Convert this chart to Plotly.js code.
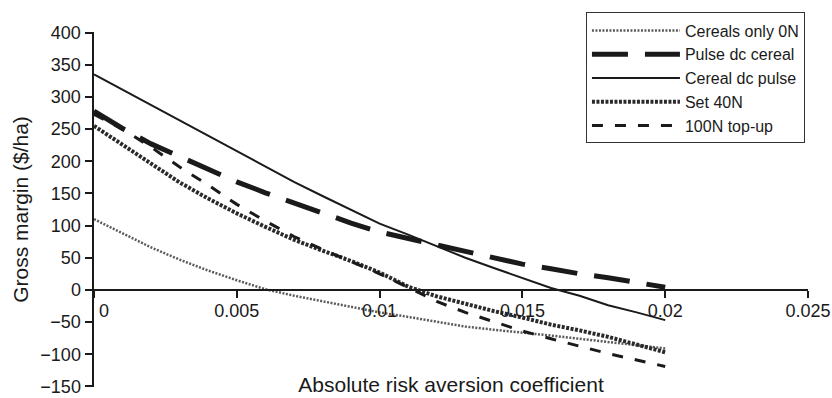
<!DOCTYPE html>
<html><head><meta charset="utf-8">
<script src="https://cdn.plot.ly/plotly-3.0.1.min.js"></script>
<style>html,body{margin:0;padding:0;background:#fff;} #chart{width:832px;height:398px;}</style>
</head><body><div id="chart"></div>
<script>
// Absolute risk aversion coefficient (x values)
const coef = [0, 0.001, 0.002, 0.003, 0.004, 0.005, 0.006, 0.007, 0.008, 0.009, 0.010,
              0.011, 0.012, 0.013, 0.014, 0.015, 0.016, 0.017, 0.018, 0.019, 0.020];
// Gross margin ($/ha) per strategy
const cerealsOnly0N = [110, 88, 66, 47, 30, 15, 1, -9, -18, -27, -35, -42, -50, -57, -62, -66, -71, -76, -81, -86, -91];
const pulseDcCereal = [278, 251, 227, 207, 186, 168, 151, 135, 120, 104, 90, 80, 70, 60, 50, 40, 33, 25, 19, 12, 4];
const cerealDcPulse = [335, 311, 287, 263, 239, 215, 192, 168, 146, 124, 103, 86, 68, 50, 34, 18, 3, -9, -24, -35, -47];
const set40N        = [255, 226, 197, 167, 142, 119, 98, 78, 61, 45, 27, 5, -10, -22, -33, -43, -54, -63, -73, -85, -97];
const topUp100N     = [273, 250, 222, 191, 163, 133, 107, 83, 63, 44, 25, 4, -18, -35, -50, -64, -76, -88, -99, -109, -119];

const seriesNames = ['Cereals only 0N', 'Pulse dc cereal', 'Cereal dc pulse', 'Set 40N', '100N top-up'];

const xTickVals = [0, 0.005, 0.01, 0.015, 0.02, 0.025];
const xTickText = ['\u00a0\u00a0\u00a0\u00a00', '0.005', '0.01', '0.015', '0.02', '0.025'];
const yTickVals = [-150, -100, -50, 0, 50, 100, 150, 200, 250, 300, 350, 400];

const FONT = '"Liberation Sans", Arial, Helvetica, sans-serif';
const INK = '#1a1a1a';

const traces = [
  {x: coef, y: cerealsOnly0N, name: seriesNames[0], mode: 'lines',
   line: {color: '#5a5a5a', width: 2.5, dash: '2px,1.5px'}},
  {x: coef, y: pulseDcCereal, name: seriesNames[1], mode: 'lines',
   line: {color: INK, width: 5, dash: '36px,17px'}},
  {x: coef, y: cerealDcPulse, name: seriesNames[2], mode: 'lines',
   line: {color: INK, width: 2}},
  {x: coef, y: set40N, name: seriesNames[3], mode: 'lines',
   line: {color: '#2a2a2a', width: 4, dash: '3px,1.5px'}},
  {x: coef, y: topUp100N, name: seriesNames[4], mode: 'lines',
   line: {color: INK, width: 3, dash: '11px,12px'}}
];

const yMin = -151, yMax = 401;

const layout = {
  width: 832, height: 398,
  margin: {l: 94, r: 24, t: 32, b: 11},
  paper_bgcolor: '#fff', plot_bgcolor: '#fff',
  font: {family: FONT, color: INK, size: 18},
  showlegend: true,
  legend: {x: 0.689, y: 1.055, xanchor: 'left', yanchor: 'top',
           bordercolor: '#333', borderwidth: 1, bgcolor: '#fff',
           font: {size: 16, family: FONT, color: INK}, itemwidth: 88},
  xaxis: {range: [0, 0.025], anchor: 'free', position: (0 - yMin) / (yMax - yMin),
          tickmode: 'array', tickvals: xTickVals, ticktext: xTickText,
          ticks: 'outside', ticklen: 7, tickwidth: 2, tickcolor: INK,
          showline: true, linewidth: 2.5, linecolor: INK, ticklabeloverflow: 'allow',
          ticklabelstandoff: -3,
          showgrid: false, zeroline: false, tickfont: {size: 18, family: FONT, color: INK},
          title: {text: 'Absolute risk aversion coefficient', font: {size: 21, family: FONT, color: INK}, standoff: 57}},
  yaxis: {range: [yMin, yMax], tickmode: 'array', tickvals: yTickVals,
          ticks: 'outside', ticklen: 7, tickwidth: 2, tickcolor: INK,
          showline: true, linewidth: 2.5, linecolor: INK, ticklabeloverflow: 'allow',
          showgrid: false, zeroline: false, tickfont: {size: 18, family: FONT, color: INK},
          title: {text: 'Gross margin ($/ha)', font: {size: 21, family: FONT, color: INK}, standoff: 6}}
};

Plotly.newPlot('chart', traces, layout, {displayModeBar: false, staticPlot: true});
</script></body></html>
